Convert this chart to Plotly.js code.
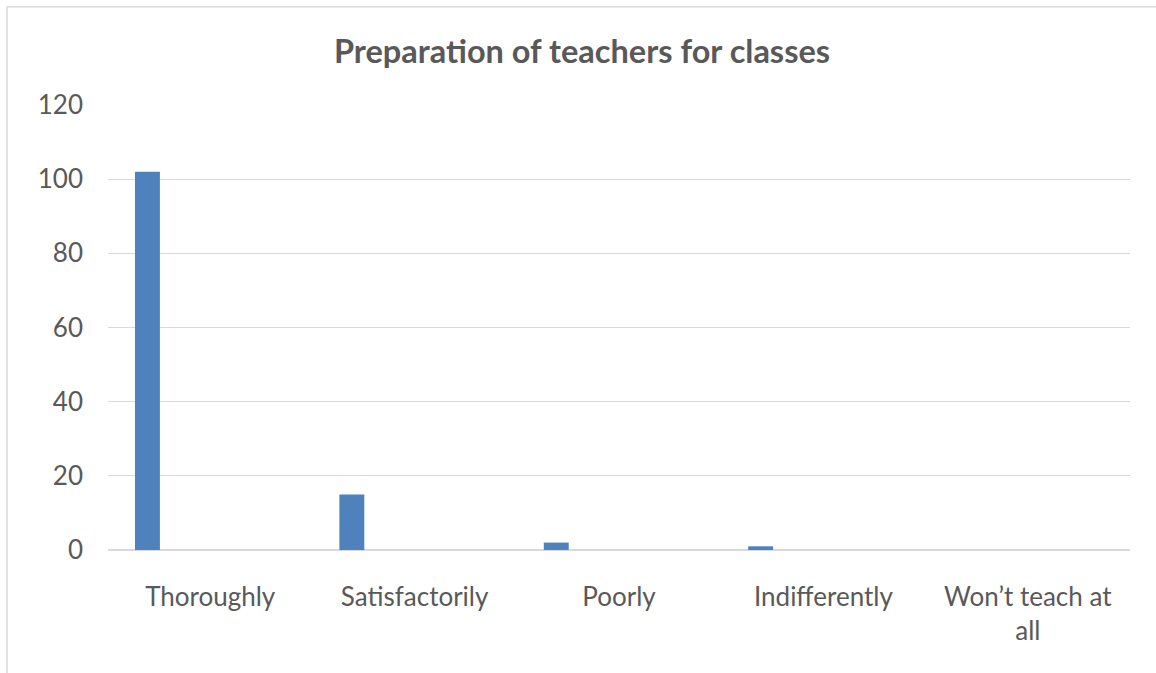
<!DOCTYPE html>
<html>
<head>
<meta charset="utf-8">
<script src="https://cdn.plot.ly/plotly-3.0.1.min.js"></script>
<style>
html,body{margin:0;padding:0;background:#fff;}
#chart{width:1156px;height:673px;}
</style>
</head>
<body>
<div id="chart"></div>
<script>
const categories = ["Thoroughly", "Satisfactorily", "Poorly", "Indifferently", "Won’t teach at<br>all"];
const values = [102, 15, 2, 1, 0];
const yTicks = [0, 20, 40, 60, 80, 100, 120];

const FONT = "Lato, 'Open Sans', sans-serif";
const TXT = "#595959";

const trace = {
  type: "bar",
  x: categories,
  y: values,
  width: 0.122,
  offset: -0.368,
  marker: {color: "#4f81bd", line: {width: 0}},
  hoverinfo: "x+y"
};

const layout = {
  width: 1156,
  height: 673,
  paper_bgcolor: "#ffffff",
  plot_bgcolor: "#ffffff",
  margin: {l: 108, r: 26, t: 105, b: 122.5, pad: 0},
  showlegend: false,
  font: {family: FONT, color: TXT, size: 26},
  title: {
    text: "<b>Preparation of teachers for classes</b>",
    font: {family: FONT, size: 32.5, color: TXT},
    x: 0.5035, xref: "container", xanchor: "center",
    y: 0.9227, yref: "container", yanchor: "middle"
  },
  xaxis: {
    type: "category",
    showgrid: false,
    showline: false,
    zeroline: false,
    ticks: "",
    ticklabelstandoff: 29,
    tickfont: {family: FONT, size: 26, color: TXT},
    range: [-0.5, 4.5],
    fixedrange: true
  },
  yaxis: {
    range: [0, 120],
    tickvals: yTicks,
    ticktext: yTicks.map(String),
    showgrid: true,
    gridcolor: "#d9d9d9",
    gridwidth: 1.3,
    zeroline: true,
    zerolinecolor: "#d9d9d9",
    zerolinewidth: 1.5,
    showline: false,
    ticks: "",
    ticklabelstandoff: 24,
    tickfont: {family: FONT, size: 26, color: TXT},
    fixedrange: true
  },
  shapes: [
    {type: "line", xref: "paper", yref: "paper",
     x0: -0.0988, x1: -0.0988, y0: -0.4, y1: 1.2208,
     line: {color: "#d9d9d9", width: 1.5}},
    {type: "line", xref: "paper", yref: "paper",
     x0: -0.0988, x1: 1.1, y0: 1.2208, y1: 1.2208,
     line: {color: "#d9d9d9", width: 1.5}}
  ]
};

Plotly.newPlot("chart", [trace], layout, {displayModeBar: false, staticPlot: true});
</script>
</body>
</html>
